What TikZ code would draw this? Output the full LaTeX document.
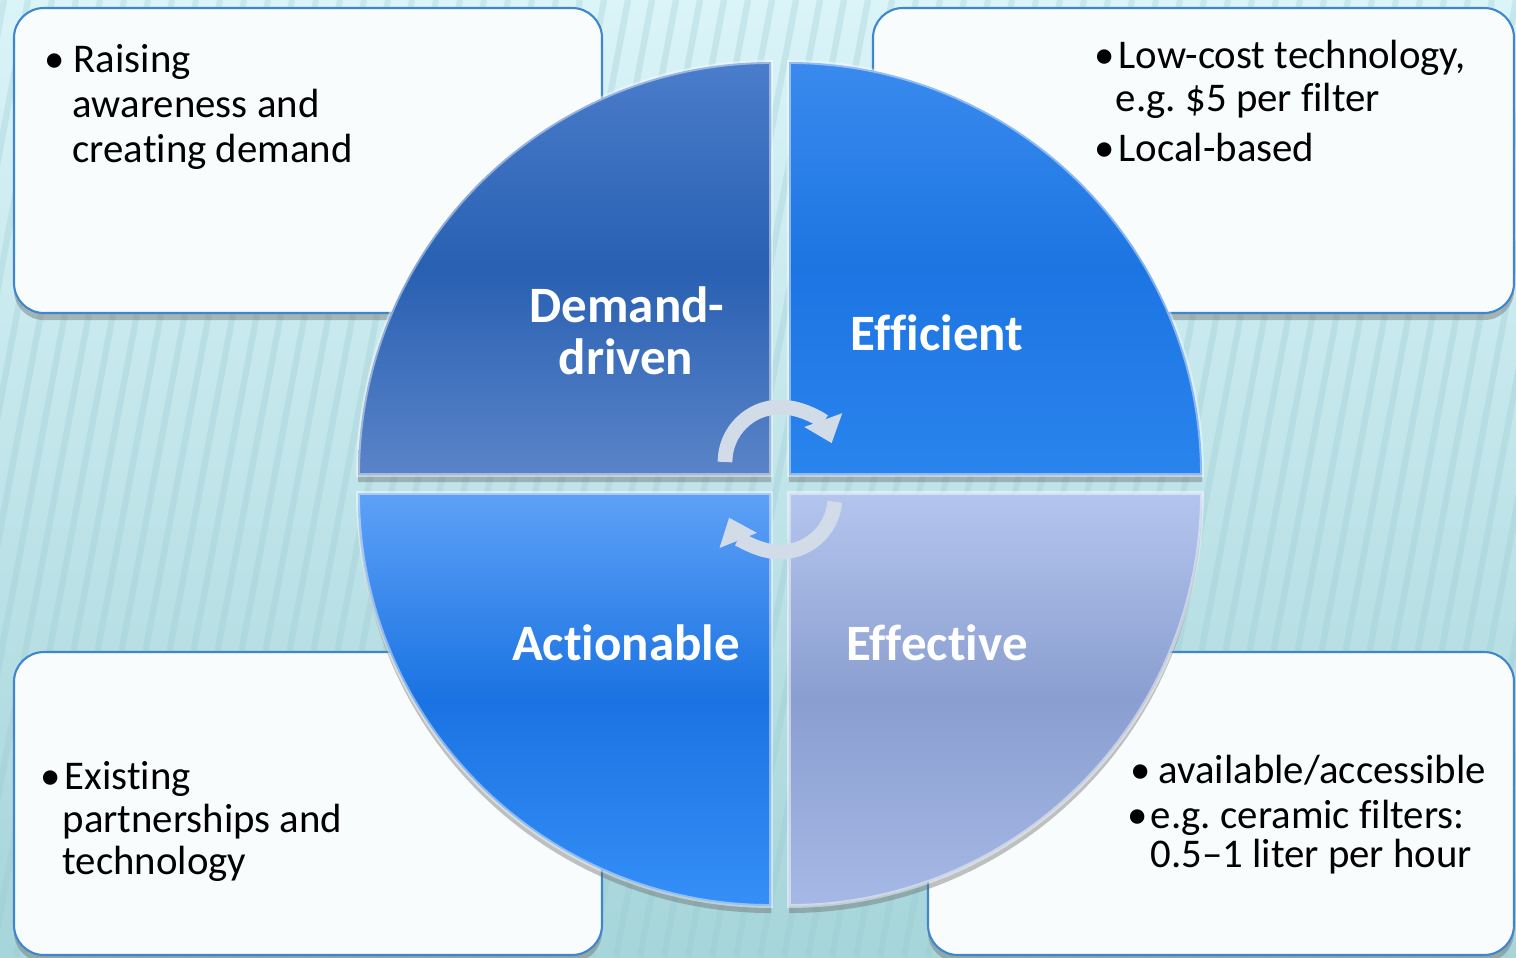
\documentclass[tikz,border=0pt]{standalone}
\usepackage{fontspec}
\setmainfont[Ligatures={TeX,NoCommon}]{Carlito}
\usetikzlibrary{shadows}
\usetikzlibrary{positioning}
\usetikzlibrary{arrows.meta,calc}

\definecolor{bgtop}{HTML}{DAF4F8}
\definecolor{bgbot}{HTML}{A6D5DA}
\definecolor{bgstripe}{HTML}{98C9D1}
\definecolor{boxline}{HTML}{3F86CC}
\definecolor{boxfill}{HTML}{F8FCFD}
\definecolor{arrowfill}{HTML}{D2DBE8}
% quadrant colours
\definecolor{demandA}{HTML}{4A7DCB}
\definecolor{demandB}{HTML}{2960B2}
\definecolor{demandC}{HTML}{5A84C8}
\definecolor{efficA}{HTML}{3A8AEE}
\definecolor{efficB}{HTML}{1C75E2}
\definecolor{efficC}{HTML}{2A84EE}
\definecolor{actionA}{HTML}{5EA1F7}
\definecolor{actionB}{HTML}{1A73E2}
\definecolor{actionC}{HTML}{358FF7}
\definecolor{effectA}{HTML}{B4C6EE}
\definecolor{effectB}{HTML}{8A9ED0}
\definecolor{effectC}{HTML}{A6B9E6}

\begin{document}
\begin{tikzpicture}[x=0.01cm, y=-0.01cm,
  stripe/.style={line width=1.8pt, color=bgstripe, opacity=0.3},
  infobox/.style={draw=boxline, line width=0.6pt, fill=boxfill, rounded corners=8.5pt,
    drop shadow={shadow xshift=0pt, shadow yshift=-2pt, opacity=0.45, fill=black!55}},
  quad/.style={drop shadow={shadow xshift=0pt, shadow yshift=-2pt, opacity=0.4, fill=black!60}},
  bevel/.style={draw=white, line width=1.1pt, opacity=0.45},
  cyclearrow/.style={line width=4.2pt, color=arrowfill, -{Triangle[length=7pt,width=11pt]}},
  bodytxt/.style={anchor=base west, inner sep=0pt, font=\fontsize{11.6}{13}\selectfont},
  quadlbl/.style={anchor=base, inner sep=0pt, text=white, font=\bfseries\fontsize{14.5}{15}\selectfont}]

\useasboundingbox (0,0) rectangle (1516,957);
\clip (0,0) rectangle (1516,957);

% background
\shade[top color=bgtop, bottom color=bgbot] (0,0) rectangle (1516,957);
\foreach \x in {-200,-176,...,1516}
  \draw[stripe] (\x,957) -- ++(180,-957);

% text boxes
\draw[infobox] (14,8) rectangle (602,313);
\draw[infobox] (873,8) rectangle (1514,313);
\draw[infobox] (14,652) rectangle (602,955);
\draw[infobox] (928,652) rectangle (1514,955);

% quadrants
\def\qr{413}
\shade[quad, top color=demandA, bottom color=demandC, middle color=demandB]
  (771,475) -- ++(-\qr,0) arc[start angle=180, end angle=270, radius=\qr] -- cycle;
\shade[quad, top color=efficA, bottom color=efficC, middle color=efficB]
  (789,475) -- ++(0,-\qr) arc[start angle=270, end angle=360, radius=\qr] -- cycle;
\shade[quad, top color=effectA, bottom color=effectC, middle color=effectB]
  (789,493) -- ++(\qr,0) arc[start angle=0, end angle=90, radius=\qr] -- cycle;
\shade[quad, top color=actionA, bottom color=actionC, middle color=actionB]
  (771,493) -- ++(0,\qr) arc[start angle=90, end angle=180, radius=\qr] -- cycle;

%bevel edges
\draw[bevel] (771,475) -- ++(-\qr,0) arc[start angle=180, end angle=270, radius=\qr] -- cycle;
\draw[bevel] (789,475) -- ++(0,-\qr) arc[start angle=270, end angle=360, radius=\qr] -- cycle;
\draw[bevel] (789,493) -- ++(\qr,0) arc[start angle=0, end angle=90, radius=\qr] -- cycle;
\draw[bevel] (771,493) -- ++(0,\qr) arc[start angle=90, end angle=180, radius=\qr] -- cycle;

% cycle arrows
\draw[cyclearrow] (780,462) ++(180:55) arc[start angle=180, end angle=340, radius=55];
\draw[cyclearrow] (780,497) ++(5:55) arc[start angle=5, end angle=158, radius=55];

% quadrant labels
\node[quadlbl] (demand1) at (627,322) {Demand-};
\node[quadlbl] (demand2) at (626,374) {driven};
\node[quadlbl] (effic) at (937,350) {Efficient};
\node[quadlbl] (action) at (626,660) {Actionable};
\node[quadlbl] (effect) at (937,660) {Effective};

% top left box
\node[bodytxt] (tlbul) at (44,72) {\textbullet};
\node[bodytxt] (tl1) at (73,72) {Raising};
\node[bodytxt] (tl2) at (72,117) {awareness and};
\node[bodytxt] (tl3) at (72,162) {creating demand};

% top right box
\node[bodytxt] (trbul1) at (1094,68) {\textbullet};
\node[bodytxt] (tr1) at (1118,68) {Low-cost technology,};
\node[bodytxt] (tr2) at (1115,111) {e.g.\ \$5 per filter};
\node[bodytxt] (trbul2) at (1094,161) {\textbullet};
\node[bodytxt] (tr3) at (1118,161) {Local-based};

% bottom left box
\node[bodytxt] (blbul) at (40,789) {\textbullet};
\node[bodytxt] (bl1) at (64,789) {Existing};
\node[bodytxt] (bl2) at (62,832) {partnerships and};
\node[bodytxt] (bl3) at (62,874) {technology};

% bottom right box
\node[bodytxt] (brbul1) at (1130,783) {\textbullet};
\node[bodytxt] (br1) at (1158,783) {available/accessible};
\node[bodytxt] (brbul2) at (1127,828) {\textbullet};
\node[bodytxt] (br2) at (1150,828) {e.g.\ ceramic filters:};
\node[bodytxt] (br3) at (1150,867) {0.5--1 liter per hour};

\end{tikzpicture}
\end{document}
